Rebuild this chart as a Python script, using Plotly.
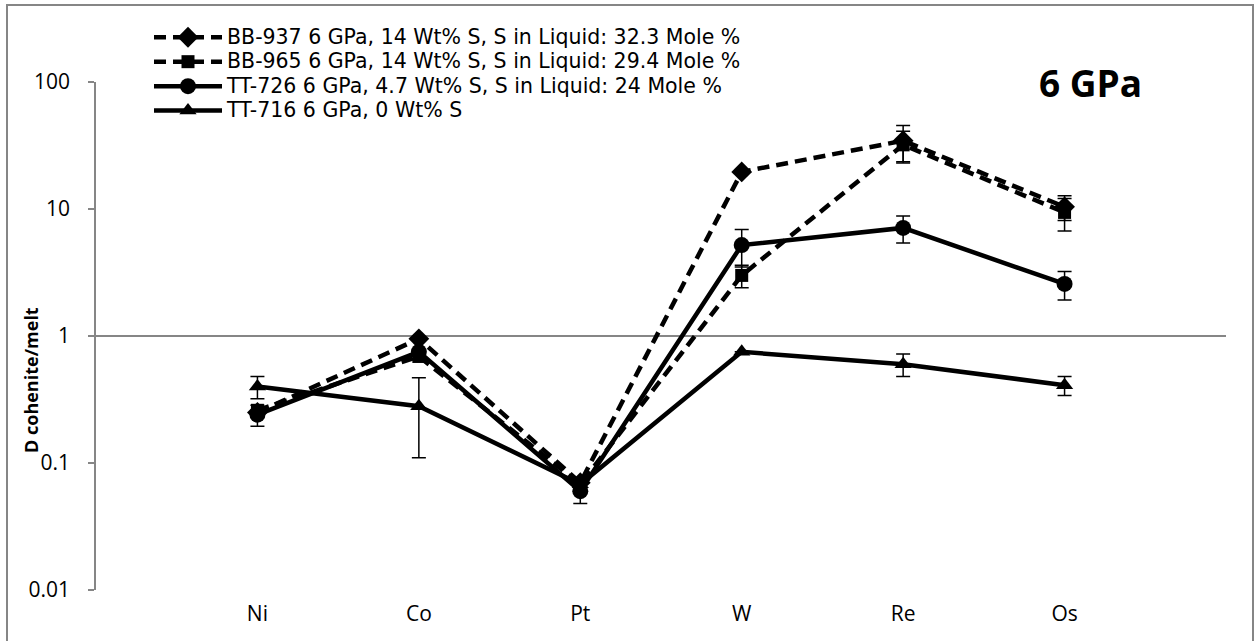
import plotly.graph_objects as go

# Elements along the x axis
elements = ["Ni", "Co", "Pt", "W", "Re", "Os"]

# Partition coefficients D (cohenite/melt) per experiment, with 1-sigma errors
bb937 = [0.25, 0.95, 0.070, 19.6, 34.5, 10.4]
bb937_err = [0, 0, 0, 0, 11.0, 2.3]

bb965 = [0.26, 0.69, 0.068, 3.0, 32.0, 9.4]
bb965_err = [0, 0, 0, 0.6, 9.0, 2.7]

tt726 = [0.24, 0.75, 0.060, 5.2, 7.1, 2.57]
tt726_err = [0.045, 0, 0.012, 1.7, 1.7, 0.65]

tt716 = [0.40, 0.28, 0.068, 0.75, 0.60, 0.41]
tt716_err_plus = [0.08, 0.19, 0, 0, 0.12, 0.07]
tt716_err_minus = [0.08, 0.17, 0, 0, 0.12, 0.07]

names = [
    "BB-937 6 GPa, 14 Wt% S, S in Liquid: 32.3 Mole %",
    "BB-965 6 GPa, 14 Wt% S, S in Liquid: 29.4 Mole %",
    "TT-726 6 GPa, 4.7 Wt% S, S in Liquid: 24 Mole %",
    "TT-716 6 GPa, 0 Wt% S",
]

FONT = "'Open Sans', 'Noto Sans', sans-serif"
LEGEND_FONT = "'DejaVu Sans', sans-serif"
GRAY = "#868686"
LEGEND_TEXT_PX = 20.5
xpos = list(range(len(elements)))

series = [
    (bb937, bb937_err, bb937_err, names[0], "diamond", 16, "12px,7px"),
    (bb965, bb965_err, bb965_err, names[1], "square", 13, "12px,7px"),
    (tt726, tt726_err, tt726_err, names[2], "circle", 16, "solid"),
    (tt716, tt716_err_plus, tt716_err_minus, names[3], "triangle-up", 15, "solid"),
]

fig = go.Figure()
for vals, ep, em, name, sym, size, dash in series:
    fig.add_trace(go.Scatter(
        x=xpos, y=vals, mode="lines+markers",
        name=f'<span style="font-size:{LEGEND_TEXT_PX}px">{name}</span>',
        line=dict(color="black", width=4.5, dash=dash),
        marker=dict(symbol=sym, size=size, color="black"),
        error_y=dict(type="data", array=ep, arrayminus=em, visible=True,
                     color="black", thickness=1.5, width=7),
    ))

# Reference line at D = 1
fig.add_shape(type="line", xref="x", yref="y", x0=-1, x1=6, y0=1, y1=1,
              line=dict(color=GRAY, width=2), layer="below")

# Plot-area margins (pixels) and helpers to place items in paper coordinates
L, R, T, B = 96, 31, 82, 51
W, H = 1257, 641
pw, ph = W - L - R, H - T - B
def px(xp):
    return (xp - L) / pw
def py(yp):
    return (H - B - yp) / ph

# Outer chart border
fig.add_shape(type="rect", xref="paper", yref="paper",
              x0=px(7), x1=px(1253), y0=py(5), y1=py(646),
              line=dict(color=GRAY, width=2))

fig.add_annotation(text="<b>6 GPa</b>", xref="paper", yref="paper",
                   x=px(1090), y=py(82), xanchor="center", yanchor="middle",
                   showarrow=False,
                   font=dict(size=37, family=FONT, color="black"))

fig.add_annotation(text="<b>D cohenite/melt</b>", xref="paper", yref="paper",
                   x=px(31), y=py(380), xanchor="center", yanchor="middle",
                   showarrow=False, textangle=-90,
                   font=dict(size=18, family=FONT, color="black"))

fig.update_layout(
    width=W, height=H,
    margin=dict(l=L, r=R, t=T, b=B),
    paper_bgcolor="white", plot_bgcolor="white",
    font=dict(family=FONT, size=21, color="black"),
    showlegend=True,
    legend=dict(x=px(149), y=py(20), xanchor="left", yanchor="top",
                font=dict(size=16.5, family=LEGEND_FONT, color="black"),
                bgcolor="rgba(0,0,0,0)", tracegroupgap=0, itemwidth=68),
    xaxis=dict(range=[-1, 6], tickvals=xpos, ticktext=elements,
               showline=False, showgrid=False, zeroline=False, ticks="",
               ticklabelstandoff=9, tickfont=dict(size=21)),
    yaxis=dict(type="log", range=[-2, 2],
               tickvals=[0.01, 0.1, 1, 10, 100],
               ticktext=["0.01", "0.1", "1", "10", "100"],
               showline=True, linecolor=GRAY, linewidth=1.5,
               ticks="outside", ticklen=6, tickcolor=GRAY, tickwidth=1.5,
               showgrid=False, zeroline=False, ticklabelstandoff=14,
               tickfont=dict(size=21)),
)

fig.write_html("out.html")
